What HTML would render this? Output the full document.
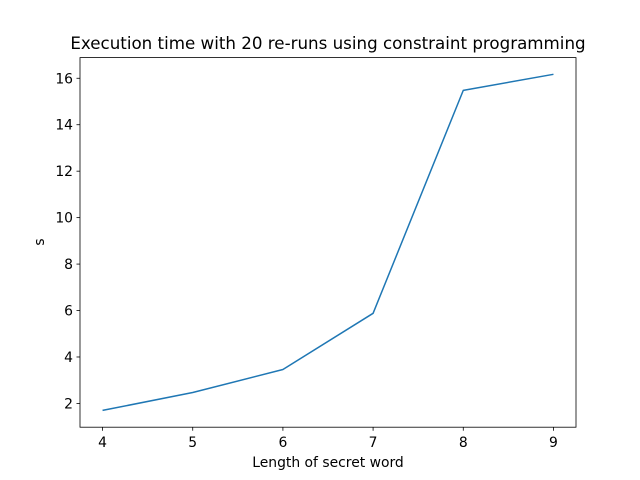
<!DOCTYPE html>
<html><head><meta charset="utf-8"><style>
html,body{margin:0;padding:0;background:#fff;}
svg{display:block;font-family:"DejaVu Sans","Liberation Sans",sans-serif;}
</style></head><body>
<svg id="chart" width="640" height="480" viewBox="0 0 640 480">
<rect x="0" y="0" width="640" height="480" fill="#fff"/>
<text x="328" y="49" font-size="16.7" text-anchor="middle" fill="#000">Execution time with 20 re-runs using constraint programming</text>
<g id="xticks"></g>
<g id="yticks"></g>
<path id="line" fill="none" stroke="#1f77b4" stroke-width="1.5" stroke-linejoin="round"/>
<rect x="80" y="57.6" width="496" height="369.6" fill="none" stroke="#000" stroke-width="0.8"/>
<text x="328" y="467" font-size="13.9" text-anchor="middle">Length of secret word</text>
<text x="44" y="242" font-size="13.9" text-anchor="middle" transform="rotate(-90 44 242)">s</text>
</svg>
<script>
const categories = [4, 5, 6, 7, 8, 9];
const times = [1.70, 2.47, 3.46, 5.88, 15.48, 16.17];
const yTickLabels = [2, 4, 6, 8, 10, 12, 14, 16];
const xTickLabels = [4, 5, 6, 7, 8, 9];

const L = 80, R = 576, T = 57.6, B = 427.2;
const xmin = 3.75, xmax = 9.25;
const ymin = 0.977, ymax = 16.89;
const sx = v => L + (v - xmin) / (xmax - xmin) * (R - L);
const sy = v => B - (v - ymin) / (ymax - ymin) * (B - T);
const NS = "http://www.w3.org/2000/svg";

const xg = document.getElementById('xticks');
xTickLabels.forEach(v => {
  const l = document.createElementNS(NS, 'line');
  l.setAttribute('x1', sx(v)); l.setAttribute('x2', sx(v));
  l.setAttribute('y1', B); l.setAttribute('y2', B + 3.5);
  l.setAttribute('stroke', '#000'); l.setAttribute('stroke-width', '0.8');
  
  
  xg.appendChild(l);
  const t = document.createElementNS(NS, 'text');
  t.setAttribute('x', sx(v)); t.setAttribute('y', B + 20);
  t.setAttribute('font-size', '13.9'); t.setAttribute('text-anchor', 'middle');
  t.textContent = v;
  
  
  xg.appendChild(t);
});
const yg = document.getElementById('yticks');
yTickLabels.forEach(v => {
  const l = document.createElementNS(NS, 'line');
  l.setAttribute('x1', L - 3.5); l.setAttribute('x2', L);
  l.setAttribute('y1', sy(v)); l.setAttribute('y2', sy(v));
  l.setAttribute('stroke', '#000'); l.setAttribute('stroke-width', '0.8');
  
  
  yg.appendChild(l);
  const t = document.createElementNS(NS, 'text');
  t.setAttribute('x', L - 7); t.setAttribute('y', sy(v) + 5);
  t.setAttribute('font-size', '13.9'); t.setAttribute('text-anchor', 'end');
  t.textContent = v;
  
  
  yg.appendChild(t);
});
document.getElementById('line').setAttribute('d',
  categories.map((c, i) => (i ? 'L' : 'M') + sx(c) + ' ' + sy(times[i])).join(' '));
</script>
</body></html>
